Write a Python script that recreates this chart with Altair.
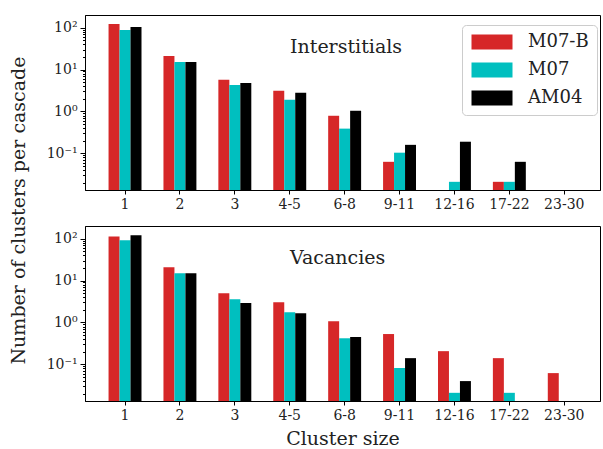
import altair as alt
import pandas as pd

categories = ["1", "2", "3", "4-5", "6-8", "9-11", "12-16", "17-22", "23-30"]
series = ["M07-B", "M07", "AM04"]
colors = ["#d62728", "#00bfbf", "#000000"]

# Interstitials panel
inter_m07b = [122, 21, 5.7, 3.1, 0.79, 0.063, None, 0.021, None]
inter_m07 = [88, 15.2, 4.3, 1.9, 0.39, 0.104, 0.021, 0.021, None]
inter_am04 = [104, 15.2, 4.8, 2.8, 1.04, 0.16, 0.19, 0.063, None]

# Vacancies panel
vac_m07b = [113, 20.7, 5.0, 3.04, 1.07, 0.53, 0.207, 0.141, 0.062]
vac_m07 = [91, 14.9, 3.6, 1.76, 0.42, 0.082, 0.021, 0.021, None]
vac_am04 = [120, 14.9, 2.9, 1.66, 0.45, 0.141, 0.040, None, None]

y_min, y_max = 0.0134, 200
major_ticks = [0.1, 1, 10, 100]
major_labels = ["10⁻¹", "10⁰", "10¹", "10²"]
minor_ticks = [k * 10.0 ** d for d in range(-2, 2) for k in range(2, 10)]

FONT = "DejaVu Serif"


def make_df(vals_list):
    rows = []
    for s, vals in zip(series, vals_list):
        for c, v in zip(categories, vals):
            if v is not None:
                rows.append({"cat": c, "model": s, "value": v})
    return pd.DataFrame(rows)


label_expr = " : ".join(
    f"datum.value == {v} ? '{l}'" for v, l in zip(major_ticks, major_labels)
) + " : ''"
major_test = "indexof([" + ",".join(str(v) for v in major_ticks) + "], datum.value) >= 0"


def panel(df, label, show_legend, x_title, y_title):
    if show_legend:
        legend = alt.Legend(
            title=None, orient="none", legendX=377, legendY=10,
            symbolType="M-1,-1H4.467V1H-1Z", symbolSize=225, symbolStrokeWidth=0,
            labelFont=FONT, labelFontSize=18, labelOffset=40, labelColor="#222",
            rowPadding=10, padding=8, cornerRadius=4,
            fillColor="white", strokeColor="#cccccc",
        )
    else:
        legend = None
    y_axis_kwargs = dict(
        values=sorted(major_ticks + minor_ticks), labelExpr=label_expr,
        tickSize={"condition": {"test": major_test, "value": 5}, "value": 2.5},
        labelFont=FONT, labelFontSize=14, labelColor="#222",
        tickColor="black", domainColor="black", grid=False, labelPadding=3,
    )
    if y_title:
        y_axis = alt.Axis(
            title=y_title, titleFont=FONT, titleFontSize=19, titleFontWeight="normal",
            titleColor="#222", titleX=-57, titleY=-16, titleAngle=270,
            titleBaseline="bottom", **y_axis_kwargs,
        )
    else:
        y_axis = alt.Axis(title=None, **y_axis_kwargs)
    x_axis_kwargs = dict(
        labelAngle=0, labelFont=FONT, labelFontSize=14, labelColor="#222",
        tickSize=4, tickColor="black", domainColor="black", labelPadding=3,
    )
    if x_title:
        x_axis = alt.Axis(title=x_title, titleFont=FONT, titleFontSize=19,
                          titleFontWeight="normal", titleColor="#222",
                          titlePadding=7, **x_axis_kwargs)
    else:
        x_axis = alt.Axis(title=None, **x_axis_kwargs)

    bars = alt.Chart(df).mark_bar().encode(
        x=alt.X("cat:N", sort=categories,
                scale=alt.Scale(domain=categories, paddingInner=0.4, paddingOuter=0.39,
                                align=0.55),
                axis=x_axis),
        xOffset=alt.XOffset("model:N", sort=series,
                            scale=alt.Scale(domain=series, paddingInner=0, paddingOuter=0)),
        y=alt.Y("value:Q", scale=alt.Scale(type="log", domain=[y_min, y_max], nice=False),
                axis=y_axis),
        y2=alt.datum(y_min),
        color=alt.Color("model:N", scale=alt.Scale(domain=series, range=colors),
                        sort=series, legend=legend),
    )
    text = alt.Chart(pd.DataFrame({"t": [label]})).mark_text(
        align="left", baseline="middle", font=FONT, fontSize=19, color="#222"
    ).encode(x=alt.value(205), y=alt.value(32), text="t:N")
    return alt.layer(bars, text).properties(width=515, height=175)


top = panel(make_df([inter_m07b, inter_m07, inter_am04]), "Interstitials", True, None, None)
bottom = panel(make_df([vac_m07b, vac_m07, vac_am04]), "Vacancies", False, "Cluster size",
               "Number of clusters per cascade")

chart = alt.vconcat(top, bottom, spacing=36, bounds="flush", background="white").resolve_scale(
    color="independent"
).properties(
    padding={"left": 8, "top": 14, "right": 0, "bottom": 2}
).configure_view(stroke="black", strokeWidth=1)

chart.save("out.html", embed_options={"renderer": "svg", "actions": False})
